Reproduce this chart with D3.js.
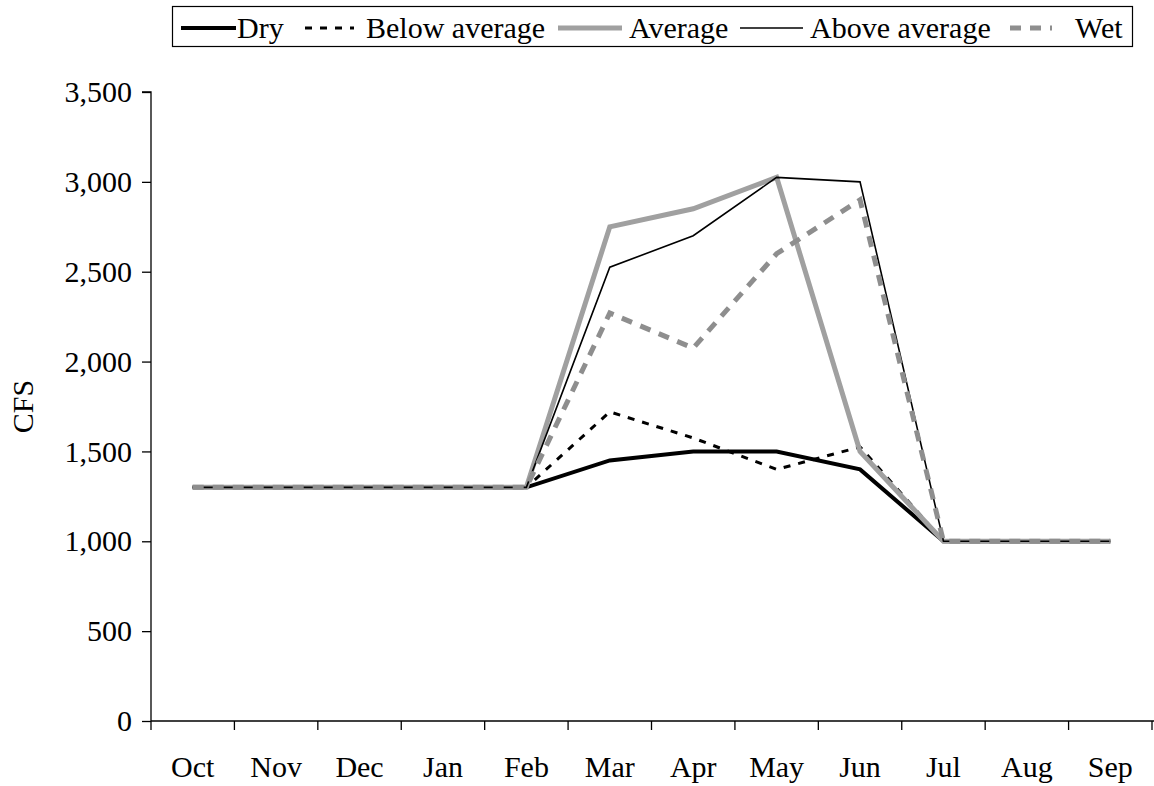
<!DOCTYPE html>
<html><head><meta charset="utf-8">
<script src="https://cdn.jsdelivr.net/npm/d3@7"></script>
<style>body{margin:0;background:#fff}svg{display:block}text{font-family:"Liberation Serif","Times New Roman",serif;fill:#000}</style>
</head><body>
<svg id="c" width="1154" height="786"></svg>
<script>
const months = ["Oct","Nov","Dec","Jan","Feb","Mar","Apr","May","Jun","Jul","Aug","Sep"];
const dry          = [1300,1300,1300,1300,1300,1450,1500,1500,1400,1000,1000,1000];
const belowAverage = [1300,1300,1300,1300,1300,1720,1575,1400,1525,1000,1000,1000];
const average      = [1300,1300,1300,1300,1300,2750,2850,3025,1500,1000,1000,1000];
const aboveAverage = [1300,1300,1300,1300,1300,2525,2700,3025,3000,1000,1000,1000];
const wet          = [1300,1300,1300,1300,1300,2270,2075,2600,2900,1000,1000,1000];
const yTicks = [0,500,1000,1500,2000,2500,3000,3500];
const seriesNames = ["Dry","Below average","Average","Above average","Wet"];

const styles = {
  "Dry":{color:"#000",width:4,dash:null},
  "Below average":{color:"#000",width:3,dash:"7,8"},
  "Average":{color:"#a0a0a0",width:5,dash:null},
  "Above average":{color:"#000",width:1.6,dash:null},
  "Wet":{color:"#8e8e8e",width:5,dash:"11,9"}
};
const seriesData = [dry,belowAverage,average,aboveAverage,wet];

const svg = d3.select("#c");
const L=151, R=1152, T=92, B=721;
const xBand = d3.scaleBand().domain(months).range([L,R]);
const x = m => xBand(m)+xBand.bandwidth()/2;
const y = d3.scaleLinear().domain([0,3500]).range([B,T]);

// y axis
const ya = svg.append("g").attr("transform",`translate(${L},0)`)
  .call(d3.axisLeft(y).tickValues(yTicks).tickSize(9).tickPadding(10).tickFormat(d3.format(",")));
ya.selectAll("text").style("font-size","30px").style("font-family","Liberation Serif");
ya.selectAll("line,path").attr("stroke","#000").attr("stroke-width",1.3);
ya.select(".domain").attr("d",`M-9,${T}H0V${B}`);

// x axis
const xa = svg.append("g").attr("transform",`translate(0,${B})`);
xa.append("line").attr("x1",L).attr("x2",1154).attr("stroke","#000").attr("stroke-width",1.3);
xa.selectAll("line.tk").data(months.concat(["end"])).join("line").attr("class","tk")
  .attr("x1",(d,i)=>i<months.length?xBand(d):R).attr("x2",(d,i)=>i<months.length?xBand(d):R)
  .attr("y1",0).attr("y2",9).attr("stroke","#000").attr("stroke-width",1.3);
xa.selectAll("text").data(months).join("text")
  .attr("x",d=>x(d)).attr("y",56).attr("text-anchor","middle")
  .style("font-size","30px").text(d=>d);

// y title
svg.append("text").attr("transform",`translate(33,${(T+B)/2}) rotate(-90)`)
  .attr("text-anchor","middle").style("font-size","30px").text("CFS");

// lines
const line = d3.line().x((d,i)=>x(months[i])).y(d=>y(d));
seriesNames.forEach((n,k)=>{
  const s=styles[n];
  svg.append("path").datum(seriesData[k]).attr("d",line)
    .attr("fill","none").attr("stroke",s.color).attr("stroke-width",s.width)
    .attr("stroke-dasharray",s.dash).attr("stroke-linejoin","miter");
});

// legend
const lg = svg.append("g");
lg.append("rect").attr("x",172.5).attr("y",6.5).attr("width",960).attr("height",40)
  .attr("fill","#fff").attr("stroke","#000").attr("stroke-width",1.2);
const legPos = [
  {x1:181,x2:236,tx:237},
  {x1:305,x2:354,tx:366},
  {x1:558,x2:622,tx:629},
  {x1:740,x2:803,tx:810},
  {x1:1010,x2:1052,tx:1075}
];
seriesNames.forEach((n,k)=>{
  const s=styles[n], p=legPos[k];
  lg.append("line").attr("x1",p.x1).attr("x2",p.x2).attr("y1",28).attr("y2",28)
    .attr("stroke",s.color).attr("stroke-width",s.width).attr("stroke-dasharray",s.dash);
  lg.append("text").attr("x",p.tx).attr("y",38).style("font-size","30px").text(n);
});
</script>
</body></html>
